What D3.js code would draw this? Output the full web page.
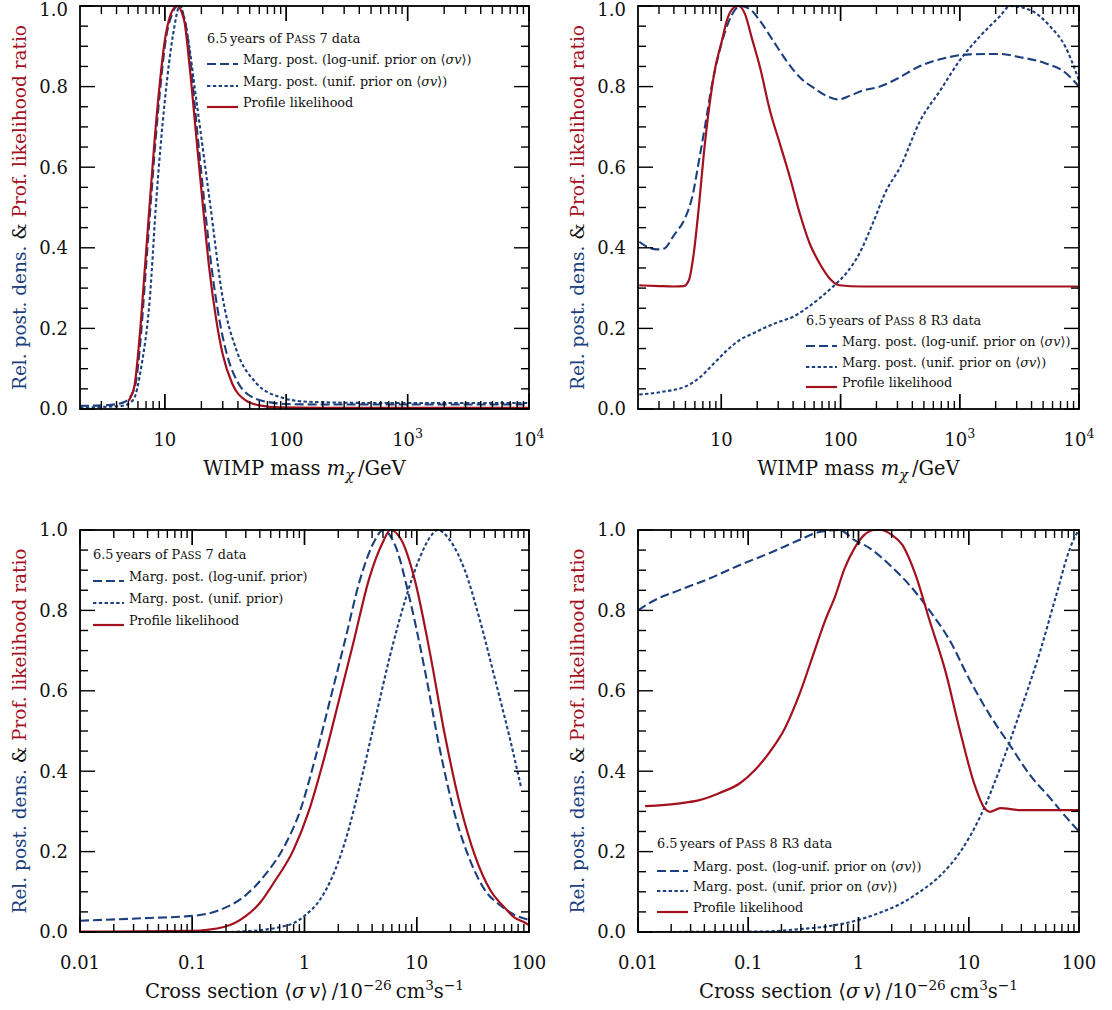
<!DOCTYPE html>
<html><head><meta charset="utf-8">
<script src="https://cdn.jsdelivr.net/npm/d3@7"></script>
<style>
html,body{margin:0;padding:0;background:#fff;}
svg{display:block;font-family:"DejaVu Serif",serif;}
</style></head><body>
<script>
// ---------- axis ticks ----------
const massTicks = [10, 100, 1000, 10000];
const massTickLabels = ["10", "100", "10^3", "10^4"];
const xsecTicks = [0.01, 0.1, 1, 10, 100];
const xsecTickLabels = ["0.01", "0.1", "1", "10", "100"];
const yTicks = [0, 0.2, 0.4, 0.6, 0.8, 1.0];
const yTickLabels = ["0.0", "0.2", "0.4", "0.6", "0.8", "1.0"];

// ---------- Pass 7, WIMP mass [GeV, relative value] ----------
const p7MassLogUnif = [[2,0.008],[3,0.009],[4,0.012],[4.7,0.018],[5.3,0.035],[5.8,0.07],[6.3,0.17],[6.95,0.34],[7.65,0.51],[8.4,0.67],[9.2,0.8],[10.1,0.91],[11.4,0.978],[12.8,1.0],[14.7,0.962],[16.4,0.85],[18.6,0.68],[21.2,0.51],[24.3,0.35],[28,0.225],[32.5,0.135],[40,0.066],[52,0.03],[72,0.017],[110,0.012],[300,0.011],[1000,0.011],[10000,0.011]];
const p7MassUnif = [[2,0.004],[3,0.005],[4.5,0.008],[5.5,0.023],[6.4,0.105],[7.5,0.27],[8.5,0.518],[10.0,0.765],[11.7,0.93],[13.3,1.0],[15.3,0.93],[18.2,0.765],[23.4,0.518],[30.2,0.27],[38.8,0.147],[56.7,0.064],[86,0.031],[150,0.018],[500,0.015],[10000,0.015]];
const p7MassProfile = [[5.0,0.02],[5.6,0.055],[6.2,0.18],[6.85,0.35],[7.55,0.52],[8.3,0.68],[9.1,0.81],[10,0.915],[11.2,0.98],[12.6,1.0],[14.4,0.965],[16,0.85],[18.1,0.68],[20.5,0.51],[23.2,0.35],[26.4,0.225],[30,0.135],[36,0.062],[46,0.022],[60,0.009],[90,0.004],[200,0.003],[10000,0.003]];

// ---------- Pass 8 R3, WIMP mass ----------
const p8MassLogUnif = [[2.05,0.415],[2.4,0.402],[2.9,0.396],[3.3,0.398],[4.0,0.431],[5.0,0.476],[5.7,0.526],[6.5,0.617],[7.35,0.707],[8.36,0.806],[9.5,0.88],[10.8,0.938],[12.3,0.979],[14.4,1.0],[17.4,0.992],[21.1,0.963],[27.3,0.913],[35.2,0.864],[45.5,0.823],[58.8,0.798],[76,0.777],[95,0.768],[119,0.777],[153,0.79],[214,0.8],[300,0.82],[465,0.851],[753,0.871],[1220,0.88],[2180,0.881],[3200,0.873],[5200,0.858],[7650,0.835],[10000,0.8]];
const p8MassUnif = [[2.05,0.036],[3.1,0.042],[5.2,0.058],[6.7,0.08],[8.6,0.112],[11.1,0.145],[14.4,0.172],[18.6,0.188],[24,0.204],[31,0.217],[40,0.229],[51.8,0.25],[66.8,0.275],[86,0.303],[111,0.336],[144,0.386],[186,0.46],[240,0.54],[316,0.6],[465,0.715],[684,0.79],[1000,0.865],[1480,0.925],[2180,0.975],[2640,1.0],[3880,0.99],[5700,0.95],[7650,0.9],[10000,0.815]];
const p8MassProfile = [[2.05,0.307],[3,0.305],[4,0.304],[4.85,0.305],[5.35,0.32],[5.87,0.386],[6.47,0.5],[7.13,0.633],[7.84,0.74],[8.91,0.848],[10.1,0.913],[11.1,0.963],[12.7,0.996],[13.9,1.0],[15.8,0.98],[18,0.921],[21.1,0.848],[25.6,0.74],[31,0.658],[37.6,0.575],[45.5,0.485],[55.2,0.41],[66.8,0.361],[81,0.324],[98,0.307],[150,0.304],[1000,0.304],[10000,0.304]];

// ---------- Pass 7, cross section [1e-26 cm^3/s, relative value] ----------
const p7XsecLogUnif = [[0.01,0.028],[0.042,0.035],[0.1,0.04],[0.177,0.055],[0.295,0.09],[0.445,0.142],[0.67,0.216],[0.91,0.30],[1.24,0.43],[1.69,0.577],[2.3,0.726],[3.12,0.876],[4.25,0.975],[5.0,1.0],[6.4,0.963],[8.7,0.826],[11.8,0.652],[16.1,0.453],[21.9,0.291],[29.8,0.179],[40.5,0.104],[55,0.067],[75,0.042],[100,0.03]];
const p7XsecUnif = [[0.01,0.0],[0.2,0.0],[0.3,0.002],[0.45,0.006],[0.6,0.012],[0.8,0.022],[1.0,0.04],[1.37,0.08],[1.69,0.125],[2.3,0.225],[3.12,0.366],[4.25,0.527],[5.8,0.689],[7.9,0.826],[10.7,0.933],[13.6,0.988],[15.3,1.0],[19.7,0.975],[26.8,0.9],[36.5,0.776],[50,0.627],[68,0.478],[85,0.36]];
const p7XsecProfile = [[0.01,0.001],[0.1,0.003],[0.195,0.013],[0.295,0.038],[0.40,0.072],[0.54,0.125],[0.8,0.205],[1.09,0.3],[1.49,0.43],[2.03,0.577],[2.76,0.726],[3.74,0.876],[5.0,0.97],[5.8,1.0],[7.3,0.975],[9.6,0.876],[13.0,0.70],[17.8,0.49],[24.3,0.316],[33,0.19],[45,0.105],[61,0.06],[75,0.035],[88,0.026],[100,0.017]];

// ---------- Pass 8 R3, cross section ----------
const p8XsecLogUnif = [[0.01,0.80],[0.0143,0.826],[0.024,0.851],[0.045,0.88],[0.084,0.913],[0.157,0.943],[0.29,0.975],[0.44,0.995],[0.67,1.0],[0.92,0.975],[1.26,0.955],[1.92,0.913],[2.9,0.863],[4.4,0.80],[6.7,0.726],[10.2,0.627],[15.5,0.54],[23.6,0.465],[36,0.39],[54,0.335],[74,0.29],[100,0.25]];
const p8XsecUnif = [[0.01,0.0],[0.127,0.001],[0.29,0.007],[0.55,0.015],[1.0,0.03],[1.56,0.048],[2.4,0.07],[3.6,0.1],[5.5,0.14],[8.4,0.2],[12.6,0.285],[19.4,0.41],[29.4,0.55],[44.6,0.7],[61,0.83],[83,0.955],[99,1.0]];
const p8XsecProfile = [[0.0116,0.313],[0.024,0.32],[0.036,0.328],[0.055,0.346],[0.084,0.37],[0.115,0.403],[0.157,0.448],[0.215,0.507],[0.29,0.59],[0.40,0.70],[0.50,0.776],[0.61,0.833],[0.75,0.905],[0.92,0.955],[1.13,0.988],[1.4,1.0],[1.6,1.0],[2.0,0.988],[2.5,0.963],[3.3,0.888],[4.4,0.776],[6.1,0.652],[8.3,0.502],[11.3,0.366],[13.9,0.308],[15.5,0.299],[19.4,0.308],[29.4,0.303],[100,0.303]];

// ---------- styles ----------
const BLUE = "#1c3f7e", RED = "#a3111f";
const styles = {
  logunif: {color: BLUE, dash: "9,4", width: 2.1},
  unif:    {color: BLUE, dash: "3.4,2.4", width: 2.1},
  profile: {color: RED,  dash: null, width: 2.2}
};

const panels = [
  {left: 80, right: 529, top: 6, bottom: 409, domain: [2, 1e4], ticks: massTicks, labels: massTickLabels, title: "mass",
   series: [["logunif", p7MassLogUnif], ["unif", p7MassUnif], ["profile", p7MassProfile]],
   legend: {x: 207, y: 43, dy: [64, 86, 107], pass: "7", short: false}},
  {left: 638, right: 1079, top: 6, bottom: 409, domain: [2, 1e4], ticks: massTicks, labels: massTickLabels, title: "mass",
   series: [["logunif", p8MassLogUnif], ["unif", p8MassUnif], ["profile", p8MassProfile]],
   legend: {x: 806, y: 325, dy: [346, 367, 387], pass: "8 R3", short: false}},
  {left: 80, right: 529, top: 530, bottom: 932, domain: [0.01, 100], ticks: xsecTicks, labels: xsecTickLabels, title: "xsec",
   series: [["logunif", p7XsecLogUnif], ["unif", p7XsecUnif], ["profile", p7XsecProfile]],
   legend: {x: 93, y: 559, dy: [581, 603, 625], pass: "7", short: true}},
  {left: 638, right: 1079, top: 530, bottom: 932, domain: [0.01, 100], ticks: xsecTicks, labels: xsecTickLabels, title: "xsec",
   series: [["logunif", p8XsecLogUnif], ["unif", p8XsecUnif], ["profile", p8XsecProfile]],
   legend: {x: 657, y: 848, dy: [871, 891, 912], pass: "8 R3", short: false}}
];

const svg = d3.select("body").append("svg").attr("width", 1112).attr("height", 1010);

// rich text: segments with optional italic and vertical shift / size scale
function rich(sel, segs, baseSize) {
  let cur = 0;
  segs.forEach(s => {
    const shift = s.shift || 0;
    const ts = sel.append("tspan").text(s.t).attr("dy", shift - cur);
    cur = shift;
    if (s.it) ts.attr("font-style", "italic");
    if (s.size) ts.attr("font-size", baseSize * s.size);
    if (s.fill) ts.attr("fill", s.fill);
  });
}

panels.forEach((p, i) => {
  const g = svg.append("g");
  const x = d3.scaleLog().domain(p.domain).range([p.left, p.right]);
  const y = d3.scaleLinear().domain([0, 1]).range([p.bottom, p.top]);

  const clipId = "clip" + i;
  svg.append("clipPath").attr("id", clipId).append("rect")
    .attr("x", p.left).attr("y", p.top - 2).attr("width", p.right - p.left).attr("height", p.bottom - p.top + 2);

  // curves
  const line = d3.line().x(d => x(d[0])).y(d => y(d[1])).curve(d3.curveMonotoneX);
  const cg = g.append("g").attr("clip-path", `url(#${clipId})`);
  p.series.forEach(([key, data]) => {
    const st = styles[key];
    cg.append("path").datum(data).attr("d", line)
      .attr("fill", "none").attr("stroke", st.color).attr("stroke-width", st.width)
      .attr("stroke-dasharray", st.dash).attr("stroke-linejoin", "round");
  });

  // ticks (inward, all four sides)
  const ax = g.append("g").attr("stroke", "#000").attr("stroke-width", 1.4);
  const majorLen = 15, minorLen = 8;
  const allX = x.ticks(50).filter(t => t > p.domain[0] * 1.001 && t < p.domain[1] * 0.999);
  const isMajor = t => p.ticks.some(m => Math.abs(Math.log10(t) - Math.log10(m)) < 1e-6);
  allX.concat(p.ticks).forEach(t => {
    const L = isMajor(t) ? majorLen : minorLen;
    const px = x(t);
    ax.append("line").attr("x1", px).attr("x2", px).attr("y1", p.bottom).attr("y2", p.bottom - L);
    ax.append("line").attr("x1", px).attr("x2", px).attr("y1", p.top).attr("y2", p.top + L);
  });
  d3.range(0, 21).map(k => k * 0.05).forEach(v => {
    const major = Math.abs(v * 5 - Math.round(v * 5)) < 1e-6;
    const L = major ? majorLen : minorLen;
    const py = y(v);
    ax.append("line").attr("x1", p.left).attr("x2", p.left + L).attr("y1", py).attr("y2", py);
    ax.append("line").attr("x1", p.right).attr("x2", p.right - L).attr("y1", py).attr("y2", py);
  });

  // frame
  g.append("rect").attr("x", p.left).attr("y", p.top).attr("width", p.right - p.left).attr("height", p.bottom - p.top)
    .attr("fill", "none").attr("stroke", "#000").attr("stroke-width", 1.8);

  // tick labels
  const tickSize = 18;
  p.ticks.forEach((t, k) => {
    const lab = p.labels[k];
    const txt = g.append("text").attr("x", x(t)).attr("y", p.bottom + 37).attr("text-anchor", "middle")
      .attr("font-size", tickSize).attr("fill", "#111");
    if (lab.includes("^")) {
      const [b, e] = lab.split("^");
      rich(txt, [{t: b}, {t: e, shift: -8, size: 0.7}], tickSize);
    } else txt.text(lab);
  });
  yTicks.forEach((v, k) => {
    g.append("text").attr("x", p.left - 12).attr("y", Math.max(y(v), 10)).attr("dy", "0.36em").attr("text-anchor", "end")
      .attr("font-size", tickSize).attr("fill", "#111").text(yTickLabels[k]);
  });

  // axis titles
  const cx = (p.left + p.right) / 2, ts = 19.5;
  const tt = g.append("text").attr("x", cx).attr("y", p.bottom + 66).attr("text-anchor", "middle")
    .attr("font-size", ts).attr("fill", "#111");
  if (p.title === "mass") {
    rich(tt, [{t: "WIMP mass "}, {t: "m", it: true}, {t: "\u03c7", it: true, shift: 5, size: 0.75}, {t: "\u2009/GeV"}], ts);
  } else {
    rich(tt, [{t: "Cross section \u27e8"}, {t: "\u03c3\u2009v", it: true}, {t: "\u27e9\u2009/10"}, {t: "\u221226", shift: -8, size: 0.7},
      {t: "\u2009cm", shift: 0}, {t: "3", shift: -8, size: 0.7}, {t: "s", shift: 0}, {t: "\u22121", shift: -8, size: 0.7}], ts);
  }

  const yl = g.append("text").attr("transform", `translate(${p.left - 54},${(p.top + p.bottom) / 2}) rotate(-90)`)
    .attr("text-anchor", "middle").attr("font-size", 18.5);
  rich(yl, [{t: "Rel. post. dens.", fill: BLUE}, {t: " & ", fill: "#111"}, {t: "Prof. likelihood ratio", fill: RED}], 18.5);

  // legend
  const lg = p.legend, ls = 12.8;
  const lt = g.append("text").attr("x", lg.x).attr("y", lg.y).attr("dy", "0.35em").attr("font-size", ls).attr("fill", "#111");
  rich(lt, [{t: "6.5\u2009years of P"}, {t: "ASS", size: 0.8}, {t: " " + lg.pass + " data"}], ls);
  const names = lg.short
    ? [[{t: "Marg. post. (log-unif. prior)"}], [{t: "Marg. post. (unif. prior)"}], [{t: "Profile likelihood"}]]
    : [[{t: "Marg. post. (log-unif. prior on \u27e8"}, {t: "\u03c3v", it: true}, {t: "\u27e9)"}],
       [{t: "Marg. post. (unif. prior on \u27e8"}, {t: "\u03c3v", it: true}, {t: "\u27e9)"}],
       [{t: "Profile likelihood"}]];
  ["logunif", "unif", "profile"].forEach((key, k) => {
    const st = styles[key];
    g.append("line").attr("x1", lg.x).attr("x2", lg.x + 31).attr("y1", lg.dy[k]).attr("y2", lg.dy[k])
      .attr("stroke", st.color).attr("stroke-width", st.width).attr("stroke-dasharray", st.dash);
    const et = g.append("text").attr("x", lg.x + 36).attr("y", lg.dy[k]).attr("dy", "0.35em")
      .attr("font-size", ls).attr("fill", "#111");
    rich(et, names[k], ls);
  });
});
</script>
</body></html>
